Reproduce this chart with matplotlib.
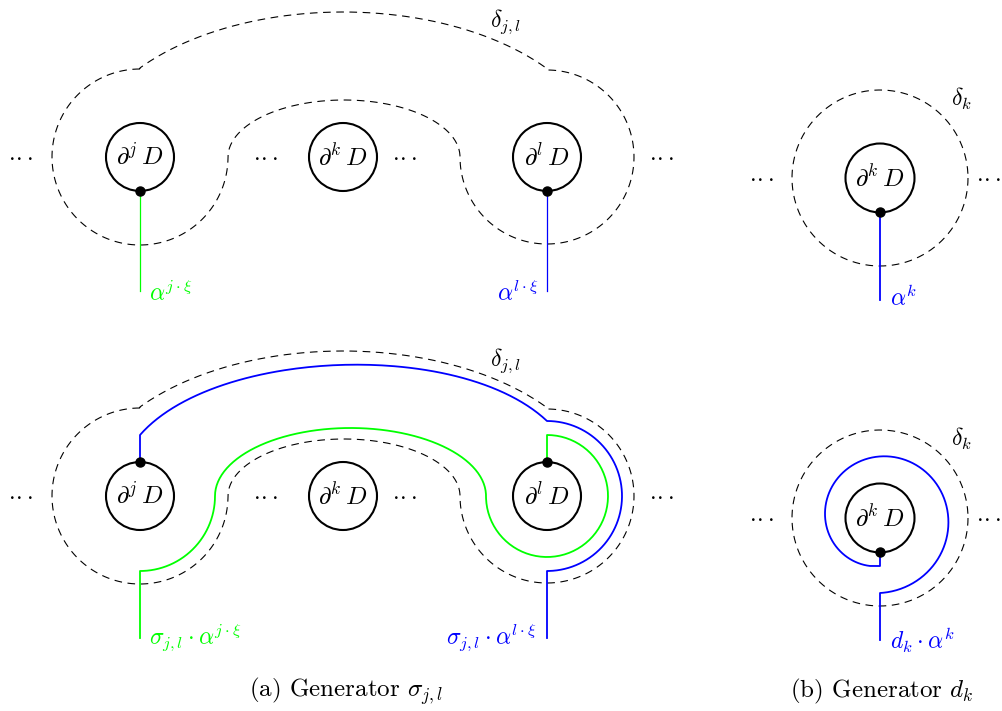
import numpy as np
import matplotlib
matplotlib.use("Agg")
import matplotlib.pyplot as plt
from matplotlib.patches import Circle

plt.rcParams['mathtext.fontset'] = 'cm'
plt.rcParams['font.family'] = 'serif'
plt.rcParams['font.serif'] = ['cmr10', 'DejaVu Serif']
plt.rcParams['axes.formatter.use_mathtext'] = True
plt.rcParams['lines.scale_dashes'] = False

GREEN = '#00ff00'
BLUE = '#0000ff'
DASH = (0, (5.5, 4.0))
FS = 17
DOTS = r'$\cdot\!\cdot\!\cdot$'

# panel (a): three boundary disks in two rows
disk_x = [140, 343, 547]
disk_labels = [r'$\partial^j\,D$', r'$\partial^k\,D$', r'$\partial^l\,D$']
row_y = [157, 496]
dots_x = [21, 266, 405, 662]
r_disk = 34
r_lobe = 88

# panel (b): single disk
disk_b_x = 880
row_b_y = [178, 518]
dots_b_x = [762, 989]
r_delta_b = 88


def arc(cx, cy, rx, ry, t0, t1, n=120):
    t = np.radians(np.linspace(t0, t1, n))
    return cx + rx * np.cos(t), cy + ry * np.sin(t)


def bezier(p0, p1, p2, p3, n=120):
    t = np.linspace(0, 1, n)[:, None]
    p = ((1 - t) ** 3 * np.array(p0) + 3 * (1 - t) ** 2 * t * np.array(p1)
         + 3 * (1 - t) * t ** 2 * np.array(p2) + t ** 3 * np.array(p3))
    return p[:, 0], p[:, 1]


def delta_jl(cy):
    # left lobe, inner bump, right lobe, outer top arc
    xs, ys = [], []
    for seg in [arc(disk_x[0], cy, r_lobe, r_lobe, 270, 0),
                arc(344, cy, 116, 57, 180, 360),
                arc(disk_x[2], cy, 87, 87, 180, -90)]:
        xs.append(seg[0]); ys.append(seg[1])
    t = np.radians(np.linspace(38.7, 141.3, 200))
    xs.append(343 + 260 * np.cos(t)); ys.append(cy + 4 - 149 * np.sin(t))
    x = np.concatenate(xs); y = np.concatenate(ys)
    return np.append(x, x[0]), np.append(y, y[0])


def disk(x, y, r=r_disk):
    ax.add_patch(Circle((x, y), r, fill=False, ec='black', lw=1.5))


fig = plt.figure(figsize=(10.03, 7.11), dpi=100)
ax = fig.add_axes([0, 0, 1, 1])
ax.set_xlim(0, 1003)
ax.set_ylim(711, 0)
ax.axis('off')

# ---- panel (a)
for row, cy in enumerate(row_y):
    x, y = delta_jl(cy)
    ax.plot(x, y, color='black', lw=0.8, ls=DASH)
    for dx, lbl in zip(disk_x, disk_labels):
        disk(dx, cy)
        ax.text(dx, cy, lbl, fontsize=FS + 1, ha='center', va='center')
    for dx in dots_x:
        ax.text(dx, cy, DOTS, fontsize=FS, ha='center', va='center')
    ax.text(506, cy - 135, r'$\delta_{j,l}$', fontsize=FS, ha='center', va='center')

# top row: straight arcs from bottom of disks
cy = row_y[0]
ax.plot([disk_x[0], disk_x[0]], [cy + r_disk, cy + 134], color=GREEN, lw=0.9)
ax.plot([disk_x[2], disk_x[2]], [cy + r_disk, cy + 134], color=BLUE, lw=0.9)
ax.plot([disk_x[0], disk_x[2]], [cy + r_disk, cy + r_disk], 'o', color='black', ms=6.5)
ax.text(149, 293, r'$\alpha^{j\cdot\xi}$', fontsize=FS, color=GREEN, ha='left', va='center')
ax.text(539, 293, r'$\alpha^{l\cdot\xi}$', fontsize=FS, color=BLUE, ha='right', va='center')

# bottom row: after sigma_{j,l}
cy = row_y[1]
bx, by = bezier((140, 435), (215, 349), (460, 339), (547, 421))
ax_, ay_ = arc(disk_x[2], cy, 75, 75, 270, 450)
blue_x = np.concatenate([[140, 140], bx, ax_, [547, 547]])
blue_y = np.concatenate([[cy - r_disk, 435], by, ay_, [571, 638]])
ax.plot(blue_x, blue_y, color=BLUE, lw=1.3)

g1x, g1y = arc(disk_x[2], cy, 61, 61, 270, 540)
g2x, g2y = arc(350.5, cy, 135.5, 68, 360, 180)
g3x, g3y = arc(disk_x[0], cy, 75, 75, 0, 90)
green_x = np.concatenate([[547, 547], g1x, g2x, g3x, [140, 140]])
green_y = np.concatenate([[cy - r_disk, 435], g1y, g2y, g3y, [571, 638]])
ax.plot(green_x, green_y, color=GREEN, lw=1.3)
ax.plot([disk_x[0], disk_x[2]], [cy - r_disk, cy - r_disk], 'o', color='black', ms=6.5)
ax.text(149, 638, r'$\sigma_{j,l}\cdot\alpha^{j\cdot\xi}$', fontsize=FS, color=GREEN,
        ha='left', va='center')
ax.text(537, 638, r'$\sigma_{j,l}\cdot\alpha^{l\cdot\xi}$', fontsize=FS, color=BLUE,
        ha='right', va='center')

# ---- panel (b)
for cy in row_b_y:
    x, y = arc(disk_b_x, cy, r_delta_b, r_delta_b, 0, 360)
    ax.plot(x, y, color='black', lw=0.8, ls=DASH)
    disk(disk_b_x, cy, r_disk + 0.5)
    ax.text(disk_b_x, cy, r'$\partial^k\,D$', fontsize=FS + 1, ha='center', va='center')
    for dx in dots_b_x:
        ax.text(dx, cy, DOTS, fontsize=FS, ha='center', va='center')
    ax.text(961, cy - 79, r'$\delta_k$', fontsize=FS, ha='center', va='center')

cy = row_b_y[0]
ax.plot([disk_b_x, disk_b_x], [cy + r_disk, 300], color=BLUE, lw=1.3)
ax.plot([disk_b_x], [cy + r_disk], 'o', color='black', ms=6.5)
ax.text(890, 298, r'$\alpha^k$', fontsize=FS, color=BLUE, ha='left', va='center')

cy = row_b_y[1]
th = np.linspace(101.8, 450, 300)
rr = 49 + (75 - 49) * (th - 101.8) / (450 - 101.8)
sx = disk_b_x + rr * np.cos(np.radians(th))
sy = cy + rr * np.sin(np.radians(th))
spiral_x = np.concatenate([[disk_b_x, disk_b_x], sx, [disk_b_x]])
spiral_y = np.concatenate([[cy + r_disk, cy + 48], sy, [640]])
ax.plot(spiral_x, spiral_y, color=BLUE, lw=1.3)
ax.plot([disk_b_x], [cy + r_disk], 'o', color='black', ms=6.5)
ax.text(890, 640, r'$d_k\cdot\alpha^k$', fontsize=FS, color=BLUE, ha='left', va='center')

# captions
ax.text(346, 691, r'(a) Generator $\sigma_{j,l}$', fontsize=18, ha='center', va='center')
ax.text(882, 691, r'(b) Generator $d_k$', fontsize=18, ha='center', va='center')

fig.savefig('out.png', dpi=100)
